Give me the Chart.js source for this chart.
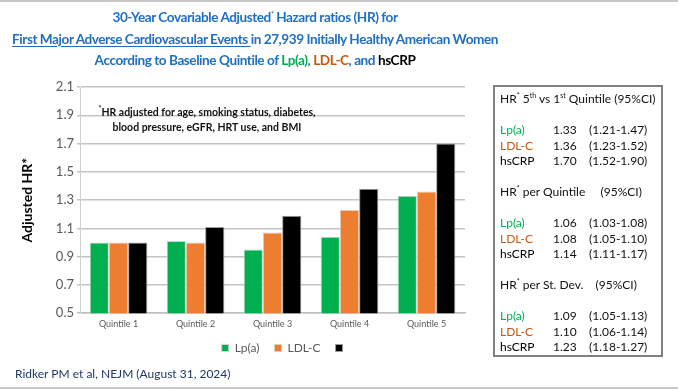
<!DOCTYPE html>
<html>
<head>
<meta charset="utf-8">
<script src="https://cdn.jsdelivr.net/npm/chart.js@4.4.1/dist/chart.umd.min.js"></script>
<style>
  html, body { margin: 0; padding: 0; background: #fff; }
  #wrap { position: relative; width: 678px; height: 390px; overflow: hidden; font-family: Lato, "Open Sans", sans-serif; }
  #chart { position: absolute; left: 0; top: 0; }
  .rule { position: absolute; left: 0; width: 678px; height: 2px; background: #c8c8c8; }
  #title { position: absolute; left: 0; top: 7px; width: 510px; text-align: center; color: #2070c0; font-weight: bold; font-size: 13.6px; letter-spacing: -0.45px; line-height: 21.5px; white-space: nowrap; }
  #title u { text-decoration-thickness: 1px; text-underline-offset: 2px; }
  #title sup, #box sup, #note sup { font-size: 7px; vertical-align: 5px; line-height: 0; }
  .lp { color: #00b050; }
  .ldl { color: #c55a11; }
  .crp { color: #000; }
  #note { position: absolute; left: 78px; top: 105px; width: 258px; text-align: center; font-size: 10.5px; font-weight: bold; line-height: 14.5px; color: #111; }
  #box { position: absolute; left: 493px; top: 85px; width: 166px; height: 268px; border: 2px solid #7f7f7f; font-size: 12px; color: #111; }
  #box .h { position: absolute; left: 5px; white-space: nowrap; }
  #box .r { position: absolute; left: 5px; white-space: nowrap; }
  #box .r span { position: absolute; top: 0; }
  #foot { position: absolute; left: 15px; top: 366px; font-size: 12px; color: #1f3864; }
</style>
</head>
<body>
<div id="wrap">
  <div class="rule" style="top:0"></div>
  <div class="rule" style="top:387px"></div>
  <canvas id="chart" width="678" height="390"></canvas>
  <div id="title">
    30-Year Covariable Adjusted<sup>*</sup> Hazard ratios (HR) for<br>
    <u>First Major Adverse Cardiovascular Events </u>in 27,939 Initially Healthy American Women<br>
    According to Baseline Quintile of <span class="lp">Lp(a)</span>, <span class="ldl">LDL-C</span>, and <span class="crp">hsCRP</span>
  </div>
  <div id="note"><sup>*</sup>HR adjusted for age, smoking status, diabetes,<br>blood pressure, eGFR, HRT use, and BMI</div>
  <div id="box"></div>
  <div id="foot">Ridker PM et al, NEJM (August 31, 2024)</div>
</div>
<script>
const quintiles = ["Quintile 1", "Quintile 2", "Quintile 3", "Quintile 4", "Quintile 5"];
const lpaValues = [1.00, 1.01, 0.95, 1.04, 1.33];
const ldlValues = [1.00, 1.00, 1.07, 1.23, 1.36];
const crpValues = [1.00, 1.11, 1.19, 1.38, 1.70];
const yTicks = [0.5, 0.7, 0.9, 1.1, 1.3, 1.5, 1.7, 1.9, 2.1];

// side table
const markers = ["Lp(a)", "LDL-C", "hsCRP"];
const markerClass = ["lp", "ldl", "crp"];
const fifthVsFirst = [["1.33", "(1.21-1.47)"], ["1.36", "(1.23-1.52)"], ["1.70", "(1.52-1.90)"]];
const perQuintile = [["1.06", "(1.03-1.08)"], ["1.08", "(1.05-1.10)"], ["1.14", "(1.11-1.17)"]];
const perSD = [["1.09", "(1.05-1.13)"], ["1.10", "(1.06-1.14)"], ["1.23", "(1.18-1.27)"]];

function buildBox() {
  const box = document.getElementById("box");
  const sections = [
    { head: 'HR<sup>*</sup> 5<sup>th</sup> vs 1<sup>st</sup> Quintile (95%CI)', rows: fifthVsFirst, top: 4 },
    { head: 'HR<sup>*</sup> per Quintile &nbsp;&nbsp;&nbsp;&nbsp;(95%CI)', rows: perQuintile, top: 97 },
    { head: 'HR<sup>*</sup> per St. Dev. &nbsp;&nbsp;&nbsp;(95%CI)', rows: perSD, top: 190 }
  ];
  let html = "";
  sections.forEach(s => {
    html += `<div class="h" style="top:${s.top}px">${s.head}</div>`;
    s.rows.forEach((row, i) => {
      const t = s.top + 31 + i * 15.5;
      html += `<div class="r" style="top:${t}px">` +
        `<span class="${markerClass[i]}" style="left:0">${markers[i]}</span>` +
        `<span style="left:53px">${row[0]}</span>` +
        `<span style="left:89px">${row[1]}</span></div>`;
    });
  });
  box.innerHTML = html;
}

// legend in the original sits a bit right of the plot centre and close under the labels
const legendShift = {
  id: "legendShift",
  afterLayout(chart) {
    if (!chart.legend) return;
    chart.legend.left += 28;
    chart.legend.right += 28;
    chart.legend.top -= 7;
    chart.legend.bottom -= 7;
  }
};

function initChart() {
  const ctx = document.getElementById("chart");
  return new Chart(ctx, {
    type: "bar",
    data: {
      labels: quintiles,
      datasets: [
        { label: "Lp(a)", data: lpaValues, backgroundColor: "#00b050", borderColor: "#c9d9c9", borderWidth: 1 },
        { label: "LDL-C", data: ldlValues, backgroundColor: "#ed7d31", borderColor: "#e6cbb8", borderWidth: 1 },
        { label: "          ", data: crpValues, backgroundColor: "#000000", borderColor: "#9a9a9a", borderWidth: 1 }
      ]
    },
    plugins: [legendShift],
    options: {
      responsive: false,
      animation: false,
      layout: { padding: { top: 87, right: 213, bottom: 19, left: 0 } },
      datasets: { bar: { categoryPercentage: 0.75, barPercentage: 1.0 } },
      plugins: {
        tooltip: { enabled: false },
        legend: {
          position: "bottom",
          fullSize: false,
          labels: {
            boxWidth: 7,
            boxHeight: 7,
            padding: 15,
            color: "#595959",
            font: { family: "Lato", size: 12 }
          }
        }
      },
      scales: {
        x: {
          grid: { display: false, drawTicks: false },
          border: { display: true, color: "#bfbfbf", width: 1.5 },
          ticks: { color: "#595959", font: { family: "Lato", size: 9 }, padding: 5 }
        },
        y: {
          min: 0.5,
          max: 2.1,
          afterBuildTicks: (scale) => { scale.ticks = yTicks.map(v => ({ value: v })); },
          ticks: {
            color: "#595959",
            font: { family: "Lato", size: 13 },
            padding: 3,
            callback: (v) => v.toFixed(1)
          },
          grid: { color: "#c4c4c4", lineWidth: 1.5, tickLength: 3 },
          border: { display: true, color: "#d0d0d0", width: 1 },
          title: {
            display: true,
            text: "Adjusted HR*",
            color: "#000",
            font: { family: "Lato", size: 14, weight: "bold" },
            padding: { top: 19, bottom: 0 }
          },
          afterFit: (scale) => { scale.width = 80; }
        }
      }
    }
  });
}

document.addEventListener("DOMContentLoaded", () => {
  buildBox();
  initChart();
});
</script>
</body>
</html>
